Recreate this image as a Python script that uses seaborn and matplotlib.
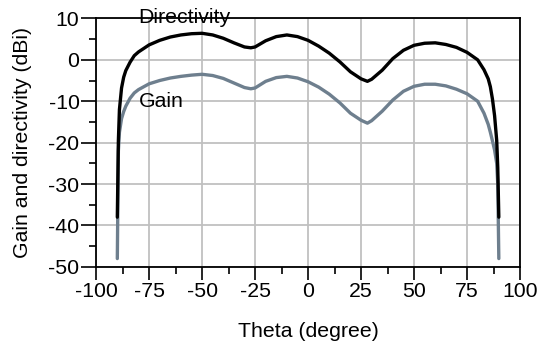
import numpy as np
import pandas as pd
import matplotlib
matplotlib.use("Agg")
import matplotlib.pyplot as plt
import seaborn as sns
from matplotlib.ticker import MultipleLocator

# angle (degree) and pattern values (dBi)
theta = [-90, -89.5, -89, -88, -87, -86, -84, -82, -80, -75, -70, -65, -60,
         -55, -50, -45, -40, -35, -30, -27, -25, -20, -15, -10, -5, 0, 5,
         10, 15, 20, 25, 28, 30, 35, 40, 45, 50, 55, 60, 65, 70, 75, 80,
         83, 85, 86, 87, 88, 89, 89.5, 90]
directivity = [-38, -19.5, -12, -6.8, -4.2, -2.6, -0.6, 1.0, 1.9, 3.6, 4.7,
               5.5, 6.0, 6.3, 6.4, 6.0, 5.2, 4.1, 3.1, 2.9, 3.1, 4.6, 5.6,
               6.0, 5.6, 4.7, 3.3, 1.6, -0.5, -2.9, -4.6, -5.2, -4.7, -2.5,
               0.3, 2.3, 3.5, 4.0, 4.1, 3.7, 3.0, 1.8, 0.0, -2.4, -4.6, -6.5,
               -9.5, -13.5, -19.5, -26, -38]
gain = [-48, -22, -17.5, -14.2, -12.5, -11.2, -9.3, -8.0, -7.2, -5.8, -5.0,
        -4.4, -4.0, -3.7, -3.5, -3.8, -4.5, -5.6, -6.7, -7.0, -6.8, -5.2,
        -4.3, -4.0, -4.4, -5.3, -6.6, -8.3, -10.4, -12.9, -14.6, -15.3,
        -14.7, -12.4, -9.7, -7.6, -6.4, -5.9, -5.9, -6.3, -7.1, -8.2, -10.0,
        -12.9, -15.6, -17.5, -19.6, -21.8, -25.0, -30, -48]

df = pd.DataFrame({"theta": theta, "Directivity": directivity, "Gain": gain})
long = df.melt(id_vars="theta", var_name="curve", value_name="dBi")

sns.set_style("white")
plt.rcParams["font.family"] = ["Liberation Sans", "DejaVu Sans"]
plt.rcParams["font.size"] = 15.3
plt.rcParams["axes.unicode_minus"] = False
plt.rcParams["text.color"] = "black"
plt.rcParams["axes.labelcolor"] = "black"
plt.rcParams["xtick.color"] = "black"
plt.rcParams["ytick.color"] = "black"

fig, ax = plt.subplots(figsize=(5.4, 3.47), dpi=100)
fig.subplots_adjust(left=0.178, right=0.963, top=0.947, bottom=0.231)

sns.lineplot(data=long, x="theta", y="dBi", hue="curve",
             palette={"Directivity": "black", "Gain": "#6e7f8e"},
             hue_order=["Gain", "Directivity"],
             linewidth=2.4, legend=False, sort=False, ax=ax)

ax.set_xlim(-100, 100)
ax.set_ylim(-50, 10)
ax.xaxis.set_major_locator(MultipleLocator(25))
ax.xaxis.set_minor_locator(MultipleLocator(12.5))
ax.yaxis.set_major_locator(MultipleLocator(10))
ax.yaxis.set_minor_locator(MultipleLocator(5))
ax.grid(True, which="major", color="#c0c0c0", linewidth=1.3)
ax.set_axisbelow(True)
for s in ax.spines.values():
    s.set_color("black")
    s.set_linewidth(1.3)
ax.tick_params(which="major", direction="out", length=9, width=1.2,
               left=True, bottom=True, pad=2)
ax.tick_params(which="minor", direction="out", length=5, width=1.2,
               left=True, bottom=True)
ax.tick_params(axis="y", which="major", length=11, pad=1)

ax.set_xlabel("Theta (degree)", labelpad=15)
ax.set_ylabel("Gain and directivity (dBi)", labelpad=12)

ax.text(-80, 10.3, "Directivity", ha="left", va="center")
ax.text(-80, -10, "Gain", ha="left", va="center")

fig.savefig("out.png", dpi=100)
